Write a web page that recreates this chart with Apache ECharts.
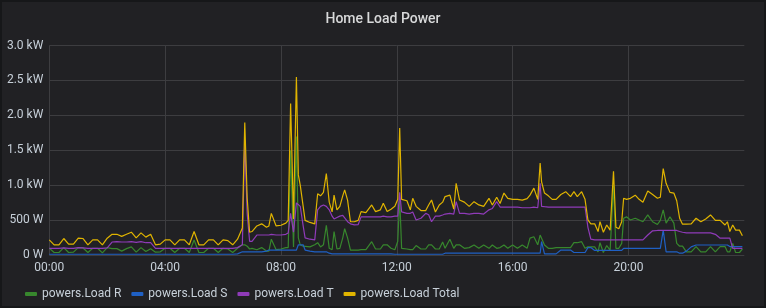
<!DOCTYPE html>
<html><head><meta charset="utf-8">
<script src="https://cdn.jsdelivr.net/npm/echarts@6/dist/echarts.min.js"></script>
<style>
html,body{margin:0;padding:0;background:#161719;width:766px;height:308px;overflow:hidden}
#c{position:absolute;left:2px;top:2px;width:762px;height:304px;background:#212124}
</style></head><body><div id="c"></div>
<script>
// minutes since 00:00
const times = [0,10,20,30,40,50,60,70,80,90,100,110,120,130,140,150,160,170,180,190,200,210,220,230,240,250,260,270,280,290,300,310,320,330,340,350,360,370,380,390,
400,405,410,415,420,430,440,450,455,460,470,480,490,495,500,506,512,516,520,526,530,540,550,556,562,568,574,580,586,590,596,602,608,612,618,624,632,640,646,656,668,676,686,692,700,708,716,722,726,730,741,748,753,760,770,780,786,792,800,808,815,
820,830,838,843,850,860,870,880,890,900,911,918,927,934,942,950,960,970,980,990,996,1004,1012,1017,1020,1026,1034,1042,1050,1060,1070,1080,1087,1094,1103,1110,1116,1122,1130,1137,1141,1148,1155,1162,1169,1174,1180,1186,1190,1196,1204,1214,1222,1230,1240,1250,1260,1266,1272,1278,1286,1294,1300,1306,1312,1320,1330,1340,1350,1360,1370,1380,1390,1400,1405,1410,1416,1422,1430,1436];

const loadR = [100,40,40,110,40,45,110,105,40,100,100,35,110,95,95,60,95,120,45,110,55,95,45,50,100,100,40,100,100,40,220,40,40,100,100,40,100,90,40,100,
150,150,130,90,100,80,110,60,60,230,80,90,110,110,1500,120,1700,250,150,130,130,120,150,180,120,150,430,100,80,340,90,100,250,380,250,75,75,75,80,80,195,90,90,150,150,100,80,200,820,100,90,80,80,140,90,90,150,150,90,90,190,
100,230,100,150,150,100,110,147,100,147,100,147,100,110,147,100,147,100,147,100,245,266,150,290,266,147,100,100,110,110,110,110,180,180,195,100,120,120,120,50,180,40,140,70,1000,100,100,170,530,550,505,530,505,480,577,480,440,500,650,460,550,460,170,130,130,50,50,125,50,50,125,50,125,125,50,50,170,40,40,90];

const loadS = [15,15,15,15,15,15,15,15,15,15,15,15,15,15,15,15,15,15,15,15,15,15,15,15,15,15,15,15,15,15,15,15,15,15,15,15,15,15,15,20,
50,50,50,50,50,50,50,60,75,75,75,75,75,75,75,75,75,150,150,150,75,60,50,50,50,50,50,30,20,20,20,20,20,20,20,20,20,20,20,20,20,20,20,20,20,20,15,15,15,15,15,15,15,15,15,15,15,15,15,15,15,
30,30,30,30,30,30,30,30,30,30,30,30,30,30,30,30,30,30,30,30,30,30,30,30,195,20,20,20,20,75,75,75,40,40,40,40,110,110,70,70,70,70,70,70,70,70,70,70,100,100,100,100,100,100,100,100,100,100,360,50,50,50,50,30,30,60,120,147,147,147,147,147,147,147,147,125,125,125,125,125];

const loadT = [100,100,100,105,100,100,110,105,100,100,100,100,105,190,195,190,190,195,185,195,180,180,100,100,100,100,100,100,100,100,100,100,100,100,100,100,100,100,100,110,
150,1650,600,200,200,290,290,290,290,300,290,290,300,320,600,330,750,750,700,420,250,230,220,650,700,720,700,650,560,520,540,560,570,577,480,450,435,440,550,550,550,550,550,560,550,550,560,560,900,620,600,600,620,505,530,600,580,480,560,560,577,
590,600,590,767,600,600,590,600,600,590,650,670,767,690,690,690,690,690,680,680,680,690,680,1030,700,695,690,690,690,690,690,690,690,690,690,690,400,230,220,220,220,220,220,220,220,220,220,220,220,220,220,220,220,220,290,350,355,355,355,355,355,355,355,340,330,320,320,320,320,320,320,300,245,245,245,245,100,100,100,100];

const loadTotal = [220,150,150,240,160,160,245,240,150,220,220,150,245,300,300,270,300,330,250,320,260,300,150,160,220,220,150,220,220,150,340,150,150,220,220,150,220,210,150,230,
390,1900,820,330,340,420,450,400,420,600,420,430,460,500,2170,520,2550,1150,1000,700,500,470,450,880,850,900,1170,760,620,860,650,700,850,935,790,480,480,500,625,610,720,625,650,745,625,660,700,800,1820,800,780,650,815,700,640,640,720,790,620,720,760,
840,860,660,1030,790,760,700,767,720,700,815,720,830,740,890,815,800,800,790,810,860,960,800,1320,1050,890,850,800,800,870,910,840,910,840,910,800,505,450,450,340,480,330,433,360,1200,400,380,480,815,800,815,860,800,760,920,870,815,830,1240,1030,900,890,780,530,445,445,450,530,480,520,577,500,500,433,480,340,433,360,360,280];

const seriesNames = ['powers.Load R','powers.Load S','powers.Load T','powers.Load Total'];
const seriesColors = ['#37872D','#1F60C4','#8F3BB8','#E0B400'];
const seriesValues = [loadR, loadS, loadT, loadTotal];

function fmtW(v){ if(v===0) return '0 W'; if(v<1000) return v+' W'; return (v/1000).toFixed(1)+' kW'; }
function fmtT(m){ const h=Math.floor(m/60), mm=m%60; return String(h).padStart(2,'0')+':'+String(mm).padStart(2,'0'); }

const chart = echarts.init(document.getElementById('c'), null, {renderer:'canvas'});
chart.setOption({
  animation:false,
  backgroundColor:'#212124',
  textStyle:{fontFamily:'Roboto'},
  title:{text:'Home Load Power',left:'center',top:5,textStyle:{color:'#d8d9da',fontSize:14,fontWeight:500,fontFamily:'Roboto'}},
  legend:{data:seriesNames,left:18,top:281,icon:'roundRect',itemWidth:12,itemHeight:4,itemGap:10,
    textStyle:{color:'#c7d0d9',fontSize:12,fontFamily:'Roboto'}},
  grid:{left:47.3,top:43.5,right:19.7,bottom:50.7,containLabel:false},
  xAxis:{type:'value',min:0,max:1440,interval:240,
    axisLine:{show:false},axisTick:{show:false},
    axisLabel:{color:'#c7d0d9',fontSize:12,margin:7,showMaxLabel:false,formatter:fmtT},
    splitLine:{show:true,showMaxLine:false,lineStyle:{color:'#3d3d40',width:1}}},
  yAxis:{type:'value',min:0,max:3000,interval:500,
    axisLine:{show:false},axisTick:{show:false},
    axisLabel:{color:'#c7d0d9',fontSize:12,margin:6,formatter:fmtW},
    splitLine:{show:true,lineStyle:{color:'#3d3d40',width:1}}},
  series: seriesValues.map((vals,k)=>({
    name:seriesNames[k],type:'line',showSymbol:false,symbol:'none',
    lineStyle:{color:seriesColors[k],width:1.2},itemStyle:{color:seriesColors[k]},
    data: times.map((t,i)=>[t, vals[i]])
  }))
});
</script></body></html>
